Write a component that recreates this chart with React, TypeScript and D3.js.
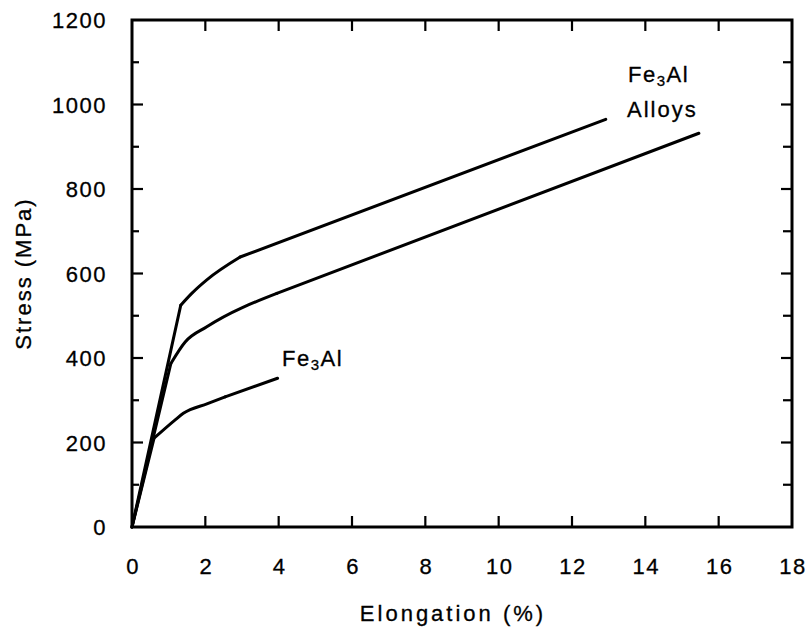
import React, { useEffect, useRef } from "react";
import * as d3 from "d3";

// stress-strain curves: elongation (%) and stress (MPa)
const alloyHighX = [0, 1.33, 1.63, 2.04, 2.95, 12.92];
const alloyHighY = [0, 525, 553, 585, 639, 965];

const alloyLowX = [0, 1.06, 1.45, 2.04, 3.95, 15.46];
const alloyLowY = [0, 387, 438, 474, 553, 932];

const fe3alX = [0, 0.6, 1.17, 1.4, 2.06, 2.54, 3.97];
const fe3alY = [0, 210, 253, 269, 292, 308, 352];

const xTicks = [0, 2, 4, 6, 8, 10, 12, 14, 16, 18];
const yTicks = [0, 200, 400, 600, 800, 1000, 1200];
const yMinorTicks = [100, 300, 500, 700, 900, 1100];

const WIDTH = 810;
const HEIGHT = 627;
const FONT = "'Liberation Sans', Arial, sans-serif";

function App() {
  const svgRef = useRef<SVGSVGElement>(null);

  useEffect(() => {
    const svg = d3.select(svgRef.current);
    svg.selectAll("*").remove();

    const left = 132, right = 792, top = 20, bottom = 527;
    const x = d3.scaleLinear().domain([0, 18]).range([left, right]);
    const y = d3.scaleLinear().domain([0, 1200]).range([bottom, top]);

    const series = [
      alloyHighX.map((v, i) => [v, alloyHighY[i]]),
      alloyLowX.map((v, i) => [v, alloyLowY[i]]),
      fe3alX.map((v, i) => [v, fe3alY[i]]),
    ];

    // straight elastic line, rounded knee, then straight hardening tail
    const straight = d3.line<number[]>()
      .x((d) => x(d[0]))
      .y((d) => y(d[1]));
    const smooth = d3.line<number[]>()
      .x((d) => x(d[0]))
      .y((d) => y(d[1]))
      .curve(d3.curveMonotoneX);

    const curves = svg.append("g")
      .attr("fill", "none")
      .attr("stroke", "#000")
      .attr("stroke-width", 3)
      .attr("stroke-linejoin", "round")
      .attr("stroke-linecap", "round");
    series.forEach((s) => {
      const n = s.length;
      curves.append("path").attr("d", straight(s.slice(0, 2)));
      curves.append("path").attr("d", smooth(s.slice(1, n - 1)));
      curves.append("path").attr("d", straight(s.slice(n - 2)));
    });

    // frame
    svg.append("rect")
      .attr("x", left)
      .attr("y", top)
      .attr("width", right - left)
      .attr("height", bottom - top)
      .attr("fill", "none")
      .attr("stroke", "#000")
      .attr("stroke-width", 3);

    // ticks point inward on all four sides
    const inner = xTicks.filter((t) => t > 0 && t < 18);
    const ticks = svg.append("g").attr("stroke", "#000").attr("stroke-width", 2.2);
    inner.forEach((t) => {
      ticks.append("line").attr("x1", x(t)).attr("x2", x(t)).attr("y1", bottom).attr("y2", bottom - 11);
      ticks.append("line").attr("x1", x(t)).attr("x2", x(t)).attr("y1", top).attr("y2", top + 11);
    });
    yTicks.filter((t) => t > 0 && t < 1200).forEach((t) => {
      ticks.append("line").attr("x1", left).attr("x2", left + 11).attr("y1", y(t)).attr("y2", y(t));
      ticks.append("line").attr("x1", right).attr("x2", right - 11).attr("y1", y(t)).attr("y2", y(t));
    });
    yMinorTicks.forEach((t) => {
      ticks.append("line").attr("x1", left).attr("x2", left + 7).attr("y1", y(t)).attr("y2", y(t));
      ticks.append("line").attr("x1", right).attr("x2", right - 9).attr("y1", y(t)).attr("y2", y(t));
    });

    const label = (sel: any) => sel
      .attr("font-family", FONT)
      .attr("font-size", 22)
      .attr("fill", "#000")
      .attr("stroke", "#000")
      .attr("stroke-width", 0.3);

    svg.append("g")
      .selectAll("text")
      .data(xTicks)
      .enter()
      .append("text")
      .call(label)
      .attr("x", (d) => x(d) + 1)
      .attr("y", 574)
      .attr("text-anchor", "middle")
      .attr("letter-spacing", 1.5)
      .text((d) => d);

    svg.append("g")
      .selectAll("text")
      .data(yTicks)
      .enter()
      .append("text")
      .call(label)
      .attr("x", 107)
      .attr("y", (d) => y(d) + 8)
      .attr("text-anchor", "end")
      .attr("letter-spacing", 1.5)
      .text((d) => d);

    svg.append("text")
      .call(label)
      .attr("x", 453)
      .attr("y", 621)
      .attr("text-anchor", "middle")
      .attr("letter-spacing", 3)
      .text("Elongation (%)");

    svg.append("text")
      .call(label)
      .attr("transform", "translate(31," + (top + bottom) / 2 + ") rotate(-90)")
      .attr("text-anchor", "middle")
      .attr("letter-spacing", 2)
      .text("Stress (MPa)");

    // curve annotations
    const chem = (px: number, py: number) => {
      const t = svg.append("text")
        .call(label)
        .attr("x", px)
        .attr("y", py)
        .attr("letter-spacing", 1.5);
      t.append("tspan").text("Fe");
      t.append("tspan").attr("font-size", 15).attr("dy", 4).text("3");
      t.append("tspan").attr("dy", -4).text("Al");
    };
    chem(282, 366);
    chem(628, 82);

    svg.append("text")
      .call(label)
      .attr("x", 627)
      .attr("y", 117)
      .attr("letter-spacing", 2)
      .text("Alloys");
  }, []);

  return (
    <svg
      ref={svgRef}
      width={WIDTH}
      height={HEIGHT}
      style={{ position: "absolute", left: 0, top: 0, background: "#fff" }}
    />
  );
}

export default App;
